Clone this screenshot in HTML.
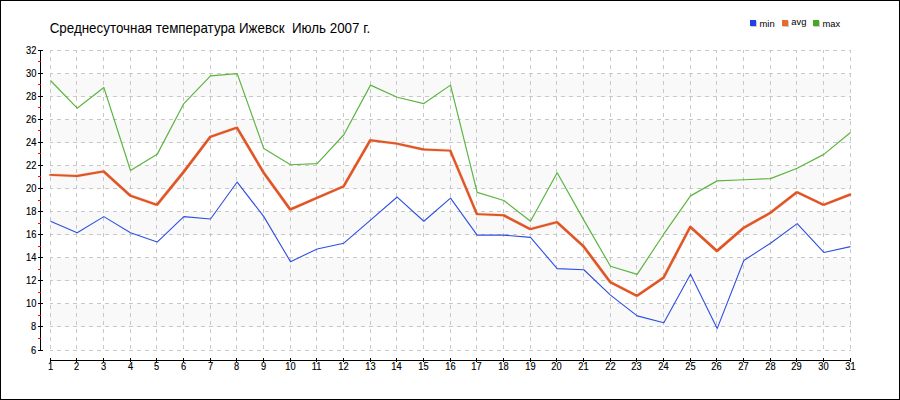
<!DOCTYPE html>
<html><head><meta charset="utf-8"><style>
html,body{margin:0;padding:0;background:#fff;}
body{width:900px;height:400px;overflow:hidden;position:relative;}
#frame{position:absolute;left:0;top:0;width:898px;height:398px;border:1px solid #000;}
svg{position:absolute;left:0;top:0;}
text{font-family:"Liberation Sans",sans-serif;font-size:10px;fill:#000;}
.ax{stroke:#000;stroke-width:0.15px;}
.title{font-size:13.4px;fill:#000;}
.leg{font-size:9.4px;fill:#000;}
</style></head><body>
<div id="frame"></div>
<svg width="900" height="400" viewBox="0 0 900 400">
<text class="title" transform="translate(49.7,33) scale(0.998,1.07)">Среднесуточная температура Ижевск&#160; Июль 2007 г.</text>
<rect x="751" y="21" width="6" height="6" fill="#ccc"/>
<rect x="750" y="20" width="6" height="6" fill="#2040e8"/>
<text class="leg" x="759.5" y="27">min</text>
<rect x="783" y="21" width="6" height="6" fill="#ccc"/>
<rect x="782" y="20" width="6" height="6" fill="#e86a30"/>
<text class="leg" x="791.3" y="25">avg</text>
<rect x="814" y="21" width="6" height="6" fill="#ccc"/>
<rect x="813" y="20" width="6" height="6" fill="#44aa22"/>
<text class="leg" x="822.5" y="26.5">max</text>
<rect x="50" y="74" width="801" height="23" fill="#f9f9f9"/>
<rect x="50" y="120" width="801" height="23" fill="#f9f9f9"/>
<rect x="50" y="166" width="801" height="23" fill="#f9f9f9"/>
<rect x="50" y="212" width="801" height="23" fill="#f9f9f9"/>
<rect x="50" y="258" width="801" height="23" fill="#f9f9f9"/>
<rect x="50" y="304" width="801" height="23" fill="#f9f9f9"/>
<line x1="50" y1="350.5" x2="851" y2="350.5" stroke="#c8c8c8" stroke-width="1" stroke-dasharray="4 4" stroke-dashoffset="1"/>
<line x1="50" y1="326.5" x2="851" y2="326.5" stroke="#c8c8c8" stroke-width="1" stroke-dasharray="4 4" stroke-dashoffset="1"/>
<line x1="50" y1="303.5" x2="851" y2="303.5" stroke="#c8c8c8" stroke-width="1" stroke-dasharray="4 4" stroke-dashoffset="1"/>
<line x1="50" y1="280.5" x2="851" y2="280.5" stroke="#c8c8c8" stroke-width="1" stroke-dasharray="4 4" stroke-dashoffset="1"/>
<line x1="50" y1="257.5" x2="851" y2="257.5" stroke="#c8c8c8" stroke-width="1" stroke-dasharray="4 4" stroke-dashoffset="1"/>
<line x1="50" y1="234.5" x2="851" y2="234.5" stroke="#c8c8c8" stroke-width="1" stroke-dasharray="4 4" stroke-dashoffset="1"/>
<line x1="50" y1="211.5" x2="851" y2="211.5" stroke="#c8c8c8" stroke-width="1" stroke-dasharray="4 4" stroke-dashoffset="1"/>
<line x1="50" y1="188.5" x2="851" y2="188.5" stroke="#c8c8c8" stroke-width="1" stroke-dasharray="4 4" stroke-dashoffset="1"/>
<line x1="50" y1="165.5" x2="851" y2="165.5" stroke="#c8c8c8" stroke-width="1" stroke-dasharray="4 4" stroke-dashoffset="1"/>
<line x1="50" y1="142.5" x2="851" y2="142.5" stroke="#c8c8c8" stroke-width="1" stroke-dasharray="4 4" stroke-dashoffset="1"/>
<line x1="50" y1="119.5" x2="851" y2="119.5" stroke="#c8c8c8" stroke-width="1" stroke-dasharray="4 4" stroke-dashoffset="1"/>
<line x1="50" y1="96.5" x2="851" y2="96.5" stroke="#c8c8c8" stroke-width="1" stroke-dasharray="4 4" stroke-dashoffset="1"/>
<line x1="50" y1="73.5" x2="851" y2="73.5" stroke="#c8c8c8" stroke-width="1" stroke-dasharray="4 4" stroke-dashoffset="1"/>
<line x1="50" y1="50.5" x2="851" y2="50.5" stroke="#c8c8c8" stroke-width="1" stroke-dasharray="4 4" stroke-dashoffset="1"/>
<line x1="50.5" y1="50" x2="50.5" y2="351" stroke="#c8c8c8" stroke-width="1" stroke-dasharray="4 4" stroke-dashoffset="1"/>
<line x1="76.5" y1="50" x2="76.5" y2="351" stroke="#c8c8c8" stroke-width="1" stroke-dasharray="4 4" stroke-dashoffset="1"/>
<line x1="103.5" y1="50" x2="103.5" y2="351" stroke="#c8c8c8" stroke-width="1" stroke-dasharray="4 4" stroke-dashoffset="1"/>
<line x1="130.5" y1="50" x2="130.5" y2="351" stroke="#c8c8c8" stroke-width="1" stroke-dasharray="4 4" stroke-dashoffset="1"/>
<line x1="156.5" y1="50" x2="156.5" y2="351" stroke="#c8c8c8" stroke-width="1" stroke-dasharray="4 4" stroke-dashoffset="1"/>
<line x1="183.5" y1="50" x2="183.5" y2="351" stroke="#c8c8c8" stroke-width="1" stroke-dasharray="4 4" stroke-dashoffset="1"/>
<line x1="210.5" y1="50" x2="210.5" y2="351" stroke="#c8c8c8" stroke-width="1" stroke-dasharray="4 4" stroke-dashoffset="1"/>
<line x1="236.5" y1="50" x2="236.5" y2="351" stroke="#c8c8c8" stroke-width="1" stroke-dasharray="4 4" stroke-dashoffset="1"/>
<line x1="263.5" y1="50" x2="263.5" y2="351" stroke="#c8c8c8" stroke-width="1" stroke-dasharray="4 4" stroke-dashoffset="1"/>
<line x1="290.5" y1="50" x2="290.5" y2="351" stroke="#c8c8c8" stroke-width="1" stroke-dasharray="4 4" stroke-dashoffset="1"/>
<line x1="316.5" y1="50" x2="316.5" y2="351" stroke="#c8c8c8" stroke-width="1" stroke-dasharray="4 4" stroke-dashoffset="1"/>
<line x1="343.5" y1="50" x2="343.5" y2="351" stroke="#c8c8c8" stroke-width="1" stroke-dasharray="4 4" stroke-dashoffset="1"/>
<line x1="370.5" y1="50" x2="370.5" y2="351" stroke="#c8c8c8" stroke-width="1" stroke-dasharray="4 4" stroke-dashoffset="1"/>
<line x1="396.5" y1="50" x2="396.5" y2="351" stroke="#c8c8c8" stroke-width="1" stroke-dasharray="4 4" stroke-dashoffset="1"/>
<line x1="423.5" y1="50" x2="423.5" y2="351" stroke="#c8c8c8" stroke-width="1" stroke-dasharray="4 4" stroke-dashoffset="1"/>
<line x1="450.5" y1="50" x2="450.5" y2="351" stroke="#c8c8c8" stroke-width="1" stroke-dasharray="4 4" stroke-dashoffset="1"/>
<line x1="476.5" y1="50" x2="476.5" y2="351" stroke="#c8c8c8" stroke-width="1" stroke-dasharray="4 4" stroke-dashoffset="1"/>
<line x1="503.5" y1="50" x2="503.5" y2="351" stroke="#c8c8c8" stroke-width="1" stroke-dasharray="4 4" stroke-dashoffset="1"/>
<line x1="530.5" y1="50" x2="530.5" y2="351" stroke="#c8c8c8" stroke-width="1" stroke-dasharray="4 4" stroke-dashoffset="1"/>
<line x1="556.5" y1="50" x2="556.5" y2="351" stroke="#c8c8c8" stroke-width="1" stroke-dasharray="4 4" stroke-dashoffset="1"/>
<line x1="583.5" y1="50" x2="583.5" y2="351" stroke="#c8c8c8" stroke-width="1" stroke-dasharray="4 4" stroke-dashoffset="1"/>
<line x1="610.5" y1="50" x2="610.5" y2="351" stroke="#c8c8c8" stroke-width="1" stroke-dasharray="4 4" stroke-dashoffset="1"/>
<line x1="636.5" y1="50" x2="636.5" y2="351" stroke="#c8c8c8" stroke-width="1" stroke-dasharray="4 4" stroke-dashoffset="1"/>
<line x1="663.5" y1="50" x2="663.5" y2="351" stroke="#c8c8c8" stroke-width="1" stroke-dasharray="4 4" stroke-dashoffset="1"/>
<line x1="690.5" y1="50" x2="690.5" y2="351" stroke="#c8c8c8" stroke-width="1" stroke-dasharray="4 4" stroke-dashoffset="1"/>
<line x1="716.5" y1="50" x2="716.5" y2="351" stroke="#c8c8c8" stroke-width="1" stroke-dasharray="4 4" stroke-dashoffset="1"/>
<line x1="743.5" y1="50" x2="743.5" y2="351" stroke="#c8c8c8" stroke-width="1" stroke-dasharray="4 4" stroke-dashoffset="1"/>
<line x1="770.5" y1="50" x2="770.5" y2="351" stroke="#c8c8c8" stroke-width="1" stroke-dasharray="4 4" stroke-dashoffset="1"/>
<line x1="796.5" y1="50" x2="796.5" y2="351" stroke="#c8c8c8" stroke-width="1" stroke-dasharray="4 4" stroke-dashoffset="1"/>
<line x1="823.5" y1="50" x2="823.5" y2="351" stroke="#c8c8c8" stroke-width="1" stroke-dasharray="4 4" stroke-dashoffset="1"/>
<line x1="850.5" y1="50" x2="850.5" y2="351" stroke="#c8c8c8" stroke-width="1" stroke-dasharray="4 4" stroke-dashoffset="1"/>
<line x1="40.5" y1="50" x2="40.5" y2="351" stroke="#000" stroke-width="1"/>
<line x1="38" y1="350.5" x2="43" y2="350.5" stroke="#000" stroke-width="1"/>
<text class="ax" transform="translate(36.3,354.00) scale(0.93,1)" text-anchor="end">6</text>
<line x1="38" y1="326.5" x2="43" y2="326.5" stroke="#000" stroke-width="1"/>
<text class="ax" transform="translate(36.3,330.00) scale(0.93,1)" text-anchor="end">8</text>
<line x1="38" y1="303.5" x2="43" y2="303.5" stroke="#000" stroke-width="1"/>
<text class="ax" transform="translate(36.3,307.00) scale(0.93,1)" text-anchor="end">10</text>
<line x1="38" y1="280.5" x2="43" y2="280.5" stroke="#000" stroke-width="1"/>
<text class="ax" transform="translate(36.3,284.00) scale(0.93,1)" text-anchor="end">12</text>
<line x1="38" y1="257.5" x2="43" y2="257.5" stroke="#000" stroke-width="1"/>
<text class="ax" transform="translate(36.3,261.00) scale(0.93,1)" text-anchor="end">14</text>
<line x1="38" y1="234.5" x2="43" y2="234.5" stroke="#000" stroke-width="1"/>
<text class="ax" transform="translate(36.3,238.00) scale(0.93,1)" text-anchor="end">16</text>
<line x1="38" y1="211.5" x2="43" y2="211.5" stroke="#000" stroke-width="1"/>
<text class="ax" transform="translate(36.3,215.00) scale(0.93,1)" text-anchor="end">18</text>
<line x1="38" y1="188.5" x2="43" y2="188.5" stroke="#000" stroke-width="1"/>
<text class="ax" transform="translate(36.3,192.00) scale(0.93,1)" text-anchor="end">20</text>
<line x1="38" y1="165.5" x2="43" y2="165.5" stroke="#000" stroke-width="1"/>
<text class="ax" transform="translate(36.3,169.00) scale(0.93,1)" text-anchor="end">22</text>
<line x1="38" y1="142.5" x2="43" y2="142.5" stroke="#000" stroke-width="1"/>
<text class="ax" transform="translate(36.3,146.00) scale(0.93,1)" text-anchor="end">24</text>
<line x1="38" y1="119.5" x2="43" y2="119.5" stroke="#000" stroke-width="1"/>
<text class="ax" transform="translate(36.3,123.00) scale(0.93,1)" text-anchor="end">26</text>
<line x1="38" y1="96.5" x2="43" y2="96.5" stroke="#000" stroke-width="1"/>
<text class="ax" transform="translate(36.3,100.00) scale(0.93,1)" text-anchor="end">28</text>
<line x1="38" y1="73.5" x2="43" y2="73.5" stroke="#000" stroke-width="1"/>
<text class="ax" transform="translate(36.3,77.00) scale(0.93,1)" text-anchor="end">30</text>
<line x1="38" y1="50.5" x2="43" y2="50.5" stroke="#000" stroke-width="1"/>
<text class="ax" transform="translate(36.3,54.00) scale(0.93,1)" text-anchor="end">32</text>
<line x1="38" y1="338.5" x2="41" y2="338.5" stroke="#f00" stroke-width="1"/>
<line x1="38" y1="315.5" x2="41" y2="315.5" stroke="#f00" stroke-width="1"/>
<line x1="38" y1="292.5" x2="41" y2="292.5" stroke="#f00" stroke-width="1"/>
<line x1="38" y1="269.5" x2="41" y2="269.5" stroke="#f00" stroke-width="1"/>
<line x1="38" y1="246.5" x2="41" y2="246.5" stroke="#f00" stroke-width="1"/>
<line x1="38" y1="223.5" x2="41" y2="223.5" stroke="#f00" stroke-width="1"/>
<line x1="38" y1="200.5" x2="41" y2="200.5" stroke="#f00" stroke-width="1"/>
<line x1="38" y1="176.5" x2="41" y2="176.5" stroke="#f00" stroke-width="1"/>
<line x1="38" y1="153.5" x2="41" y2="153.5" stroke="#f00" stroke-width="1"/>
<line x1="38" y1="130.5" x2="41" y2="130.5" stroke="#f00" stroke-width="1"/>
<line x1="38" y1="107.5" x2="41" y2="107.5" stroke="#f00" stroke-width="1"/>
<line x1="38" y1="84.5" x2="41" y2="84.5" stroke="#f00" stroke-width="1"/>
<line x1="38" y1="61.5" x2="41" y2="61.5" stroke="#f00" stroke-width="1"/>
<line x1="50" y1="360.5" x2="851" y2="360.5" stroke="#000" stroke-width="1"/>
<line x1="50.5" y1="358" x2="50.5" y2="362" stroke="#000" stroke-width="1"/>
<text class="ax" transform="translate(50.50,370.3) scale(0.93,1)" text-anchor="middle">1</text>
<line x1="76.5" y1="358" x2="76.5" y2="362" stroke="#000" stroke-width="1"/>
<text class="ax" transform="translate(76.50,370.3) scale(0.93,1)" text-anchor="middle">2</text>
<line x1="103.5" y1="358" x2="103.5" y2="362" stroke="#000" stroke-width="1"/>
<text class="ax" transform="translate(103.50,370.3) scale(0.93,1)" text-anchor="middle">3</text>
<line x1="130.5" y1="358" x2="130.5" y2="362" stroke="#000" stroke-width="1"/>
<text class="ax" transform="translate(130.50,370.3) scale(0.93,1)" text-anchor="middle">4</text>
<line x1="156.5" y1="358" x2="156.5" y2="362" stroke="#000" stroke-width="1"/>
<text class="ax" transform="translate(156.50,370.3) scale(0.93,1)" text-anchor="middle">5</text>
<line x1="183.5" y1="358" x2="183.5" y2="362" stroke="#000" stroke-width="1"/>
<text class="ax" transform="translate(183.50,370.3) scale(0.93,1)" text-anchor="middle">6</text>
<line x1="210.5" y1="358" x2="210.5" y2="362" stroke="#000" stroke-width="1"/>
<text class="ax" transform="translate(210.50,370.3) scale(0.93,1)" text-anchor="middle">7</text>
<line x1="236.5" y1="358" x2="236.5" y2="362" stroke="#000" stroke-width="1"/>
<text class="ax" transform="translate(236.50,370.3) scale(0.93,1)" text-anchor="middle">8</text>
<line x1="263.5" y1="358" x2="263.5" y2="362" stroke="#000" stroke-width="1"/>
<text class="ax" transform="translate(263.50,370.3) scale(0.93,1)" text-anchor="middle">9</text>
<line x1="290.5" y1="358" x2="290.5" y2="362" stroke="#000" stroke-width="1"/>
<text class="ax" transform="translate(290.50,370.3) scale(0.93,1)" text-anchor="middle">10</text>
<line x1="316.5" y1="358" x2="316.5" y2="362" stroke="#000" stroke-width="1"/>
<text class="ax" transform="translate(316.50,370.3) scale(0.93,1)" text-anchor="middle">11</text>
<line x1="343.5" y1="358" x2="343.5" y2="362" stroke="#000" stroke-width="1"/>
<text class="ax" transform="translate(343.50,370.3) scale(0.93,1)" text-anchor="middle">12</text>
<line x1="370.5" y1="358" x2="370.5" y2="362" stroke="#000" stroke-width="1"/>
<text class="ax" transform="translate(370.50,370.3) scale(0.93,1)" text-anchor="middle">13</text>
<line x1="396.5" y1="358" x2="396.5" y2="362" stroke="#000" stroke-width="1"/>
<text class="ax" transform="translate(396.50,370.3) scale(0.93,1)" text-anchor="middle">14</text>
<line x1="423.5" y1="358" x2="423.5" y2="362" stroke="#000" stroke-width="1"/>
<text class="ax" transform="translate(423.50,370.3) scale(0.93,1)" text-anchor="middle">15</text>
<line x1="450.5" y1="358" x2="450.5" y2="362" stroke="#000" stroke-width="1"/>
<text class="ax" transform="translate(450.50,370.3) scale(0.93,1)" text-anchor="middle">16</text>
<line x1="476.5" y1="358" x2="476.5" y2="362" stroke="#000" stroke-width="1"/>
<text class="ax" transform="translate(476.50,370.3) scale(0.93,1)" text-anchor="middle">17</text>
<line x1="503.5" y1="358" x2="503.5" y2="362" stroke="#000" stroke-width="1"/>
<text class="ax" transform="translate(503.50,370.3) scale(0.93,1)" text-anchor="middle">18</text>
<line x1="530.5" y1="358" x2="530.5" y2="362" stroke="#000" stroke-width="1"/>
<text class="ax" transform="translate(530.50,370.3) scale(0.93,1)" text-anchor="middle">19</text>
<line x1="556.5" y1="358" x2="556.5" y2="362" stroke="#000" stroke-width="1"/>
<text class="ax" transform="translate(556.50,370.3) scale(0.93,1)" text-anchor="middle">20</text>
<line x1="583.5" y1="358" x2="583.5" y2="362" stroke="#000" stroke-width="1"/>
<text class="ax" transform="translate(583.50,370.3) scale(0.93,1)" text-anchor="middle">21</text>
<line x1="610.5" y1="358" x2="610.5" y2="362" stroke="#000" stroke-width="1"/>
<text class="ax" transform="translate(610.50,370.3) scale(0.93,1)" text-anchor="middle">22</text>
<line x1="636.5" y1="358" x2="636.5" y2="362" stroke="#000" stroke-width="1"/>
<text class="ax" transform="translate(636.50,370.3) scale(0.93,1)" text-anchor="middle">23</text>
<line x1="663.5" y1="358" x2="663.5" y2="362" stroke="#000" stroke-width="1"/>
<text class="ax" transform="translate(663.50,370.3) scale(0.93,1)" text-anchor="middle">24</text>
<line x1="690.5" y1="358" x2="690.5" y2="362" stroke="#000" stroke-width="1"/>
<text class="ax" transform="translate(690.50,370.3) scale(0.93,1)" text-anchor="middle">25</text>
<line x1="716.5" y1="358" x2="716.5" y2="362" stroke="#000" stroke-width="1"/>
<text class="ax" transform="translate(716.50,370.3) scale(0.93,1)" text-anchor="middle">26</text>
<line x1="743.5" y1="358" x2="743.5" y2="362" stroke="#000" stroke-width="1"/>
<text class="ax" transform="translate(743.50,370.3) scale(0.93,1)" text-anchor="middle">27</text>
<line x1="770.5" y1="358" x2="770.5" y2="362" stroke="#000" stroke-width="1"/>
<text class="ax" transform="translate(770.50,370.3) scale(0.93,1)" text-anchor="middle">28</text>
<line x1="796.5" y1="358" x2="796.5" y2="362" stroke="#000" stroke-width="1"/>
<text class="ax" transform="translate(796.50,370.3) scale(0.93,1)" text-anchor="middle">29</text>
<line x1="823.5" y1="358" x2="823.5" y2="362" stroke="#000" stroke-width="1"/>
<text class="ax" transform="translate(823.50,370.3) scale(0.93,1)" text-anchor="middle">30</text>
<line x1="850.5" y1="358" x2="850.5" y2="362" stroke="#000" stroke-width="1"/>
<text class="ax" transform="translate(850.50,370.3) scale(0.93,1)" text-anchor="middle">31</text>
<polyline points="50.50,80.50 77.17,108.19 103.83,87.42 130.50,170.50 157.17,154.35 183.83,103.58 210.50,75.88 237.17,73.58 263.83,148.58 290.50,164.73 317.17,163.58 343.83,134.73 370.50,85.12 397.17,97.23 423.83,103.58 450.50,85.12 477.17,192.42 503.83,200.50 530.50,221.27 557.17,172.81 583.83,220.12 610.50,266.27 637.17,274.35 663.83,233.96 690.50,195.88 717.17,180.88 743.83,179.73 770.50,178.58 797.17,168.19 823.83,154.35 850.50,132.42" fill="none" stroke="#5cb540" stroke-width="1.2" stroke-linejoin="round"/>
<polyline points="50.25,174.87 76.92,176.02 103.58,171.40 130.25,195.63 156.92,204.87 183.58,171.98 210.25,136.79 236.92,127.56 263.58,172.56 290.25,209.48 316.92,197.94 343.58,186.40 370.25,140.25 396.92,143.71 423.58,149.48 450.25,150.63 476.92,214.10 503.58,215.25 530.25,229.10 556.92,222.17 583.58,246.40 610.25,282.17 636.92,295.79 663.58,277.56 690.25,226.79 716.92,251.02 743.58,227.94 770.25,212.94 796.92,192.17 823.58,204.87 850.25,194.48" fill="none" stroke="#f2a888" stroke-opacity="0.35" stroke-width="3.2" stroke-linejoin="round"/>
<path d="M49.35,173.97 L51.15,173.97 L77.82,175.12 L77.82,176.92 L76.02,176.92 L49.35,175.77Z M76.02,175.12 L102.68,170.50 L104.48,170.50 L104.48,172.30 L77.82,176.92 L76.02,176.92Z M102.68,170.50 L104.48,170.50 L131.15,194.73 L131.15,196.53 L129.35,196.53 L102.68,172.30Z M129.35,194.73 L131.15,194.73 L157.82,203.97 L157.82,205.77 L156.02,205.77 L129.35,196.53Z M156.02,203.97 L182.68,171.08 L184.48,171.08 L184.48,172.88 L157.82,205.77 L156.02,205.77Z M182.68,171.08 L209.35,135.89 L211.15,135.89 L211.15,137.69 L184.48,172.88 L182.68,172.88Z M209.35,135.89 L236.02,126.66 L237.82,126.66 L237.82,128.46 L211.15,137.69 L209.35,137.69Z M236.02,126.66 L237.82,126.66 L264.48,171.66 L264.48,173.46 L262.68,173.46 L236.02,128.46Z M262.68,171.66 L264.48,171.66 L291.15,208.58 L291.15,210.38 L289.35,210.38 L262.68,173.46Z M289.35,208.58 L316.02,197.04 L317.82,197.04 L317.82,198.84 L291.15,210.38 L289.35,210.38Z M316.02,197.04 L342.68,185.50 L344.48,185.50 L344.48,187.30 L317.82,198.84 L316.02,198.84Z M342.68,185.50 L369.35,139.35 L371.15,139.35 L371.15,141.15 L344.48,187.30 L342.68,187.30Z M369.35,139.35 L371.15,139.35 L397.82,142.81 L397.82,144.61 L396.02,144.61 L369.35,141.15Z M396.02,142.81 L397.82,142.81 L424.48,148.58 L424.48,150.38 L422.68,150.38 L396.02,144.61Z M422.68,148.58 L424.48,148.58 L451.15,149.73 L451.15,151.53 L449.35,151.53 L422.68,150.38Z M449.35,149.73 L451.15,149.73 L477.82,213.20 L477.82,215.00 L476.02,215.00 L449.35,151.53Z M476.02,213.20 L477.82,213.20 L504.48,214.35 L504.48,216.15 L502.68,216.15 L476.02,215.00Z M502.68,214.35 L504.48,214.35 L531.15,228.20 L531.15,230.00 L529.35,230.00 L502.68,216.15Z M529.35,228.20 L556.02,221.27 L557.82,221.27 L557.82,223.07 L531.15,230.00 L529.35,230.00Z M556.02,221.27 L557.82,221.27 L584.48,245.50 L584.48,247.30 L582.68,247.30 L556.02,223.07Z M582.68,245.50 L584.48,245.50 L611.15,281.27 L611.15,283.07 L609.35,283.07 L582.68,247.30Z M609.35,281.27 L611.15,281.27 L637.82,294.89 L637.82,296.69 L636.02,296.69 L609.35,283.07Z M636.02,294.89 L662.68,276.66 L664.48,276.66 L664.48,278.46 L637.82,296.69 L636.02,296.69Z M662.68,276.66 L689.35,225.89 L691.15,225.89 L691.15,227.69 L664.48,278.46 L662.68,278.46Z M689.35,225.89 L691.15,225.89 L717.82,250.12 L717.82,251.92 L716.02,251.92 L689.35,227.69Z M716.02,250.12 L742.68,227.04 L744.48,227.04 L744.48,228.84 L717.82,251.92 L716.02,251.92Z M742.68,227.04 L769.35,212.04 L771.15,212.04 L771.15,213.84 L744.48,228.84 L742.68,228.84Z M769.35,212.04 L796.02,191.27 L797.82,191.27 L797.82,193.07 L771.15,213.84 L769.35,213.84Z M796.02,191.27 L797.82,191.27 L824.48,203.97 L824.48,205.77 L822.68,205.77 L796.02,193.07Z M822.68,203.97 L849.35,193.58 L851.15,193.58 L851.15,195.38 L824.48,205.77 L822.68,205.77Z" fill="#e05526"/>
<polyline points="50.50,221.27 77.17,232.81 103.83,216.65 130.50,232.81 157.17,242.04 183.83,216.65 210.50,218.96 237.17,182.04 263.83,216.65 290.50,261.65 317.17,248.96 343.83,243.19 370.50,220.12 397.17,197.04 423.83,221.27 450.50,198.19 477.17,235.12 503.83,235.12 530.50,237.42 557.17,268.58 583.83,269.73 610.50,295.12 637.17,315.88 663.83,322.81 690.50,274.35 717.17,328.58 743.83,260.50 770.50,243.19 797.17,223.58 823.83,252.42 850.50,246.65" fill="none" stroke="#2d4fe0" stroke-width="1.1" stroke-linejoin="round"/>
</svg>
</body></html>
